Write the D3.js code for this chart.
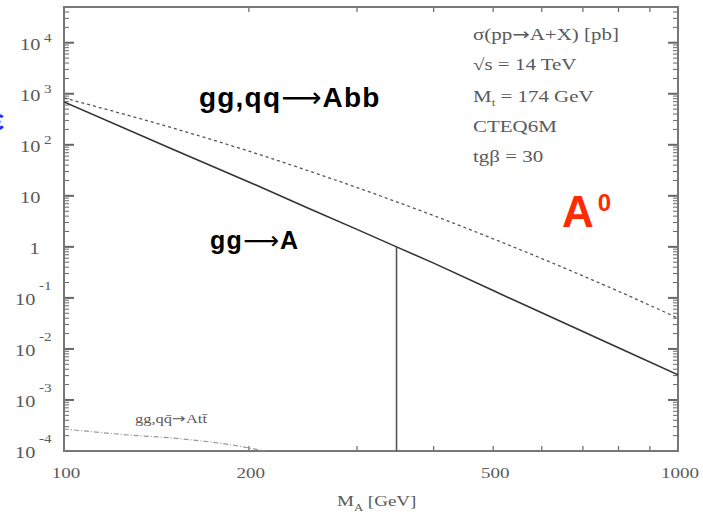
<!DOCTYPE html>
<html>
<head>
<meta charset="utf-8">
<script src="https://d3js.org/d3.v7.min.js"></script>
<style>
  body { margin: 0; background: #fff; }
  svg { display: block; }
  .serif { font-family: "Liberation Serif", "DejaVu Serif", serif; fill: #5a5a5a; }
  .bold { font-family: "Liberation Sans", Arial, sans-serif; font-weight: bold; }
  .arrow { font-family: "DejaVu Sans", sans-serif; font-weight: normal; }
</style>
</head>
<body>
<div id="chart"></div>
<script>
// cross sections sigma(pp -> A + X) [pb]
const massAbb = [100, 150, 200, 250, 300, 400, 500, 600, 700, 800, 1000];
const sigmaAbb = [828, 215, 75, 31, 14.5, 4.1, 1.44, 0.59, 0.27, 0.135, 0.040];

const massGgA = [100, 150, 200, 250, 300, 348, 400, 500, 600, 700, 800, 1000];
const sigmaGgA = [690, 83, 18.7, 5.7, 2.2, 1.0, 0.48, 0.139, 0.051, 0.022, 0.0105, 0.0031];

const massAtt = [100, 128, 150, 200, 212, 250];
const sigmaAtt = [2.7e-4, 2.05e-4, 1.8e-4, 1.15e-4, 1.0e-4, 7e-5];

const thresholdMass = 348; // 2 * M_t

const xTickLabels = [100, 200, 500, 1000];
const yTickExps = [-4, -3, -2, -1, 0, 1, 2, 3, 4];
const infoLines = ["σ(pp→A+X) [pb]", "√s = 14 TeV", "M|t = 174 GeV", "CTEQ6M", "tgβ = 30"];

const W = 703, H = 516;
const plot = { left: 64, right: 678, top: 7, bottom: 451 };
const sx = 1.27; // the scanned labels are stretched sideways

const svg = d3.select("#chart").append("svg")
    .attr("width", W).attr("height", H);

const x = d3.scaleLog().domain([100, 1000]).range([plot.left, plot.right]);
const y = d3.scaleLog().domain([1e-4, Math.pow(10, 4.7)]).range([plot.bottom, plot.top]);

svg.append("clipPath").attr("id", "clip")
  .append("rect")
    .attr("x", plot.left).attr("y", plot.top)
    .attr("width", plot.right - plot.left).attr("height", plot.bottom - plot.top);

// ticks, all pointing inwards
const ticks = svg.append("g").attr("stroke", "#666").attr("stroke-width", 1.2);
const yMinor = [];
for (let e = -4; e <= 4; e++) {
    for (let m = 1; m <= 9; m++) {
        const v = m * Math.pow(10, e);
        if (v <= y.domain()[1]) yMinor.push({ v, major: m === 1 });
    }
}
ticks.selectAll(".yl").data(yMinor).enter().append("line")
    .attr("x1", plot.left).attr("x2", d => plot.left + (d.major ? 10 : 5))
    .attr("y1", d => y(d.v)).attr("y2", d => y(d.v))
    .attr("stroke-width", d => d.major ? 2 : 1);
ticks.selectAll(".yr").data(yMinor).enter().append("line")
    .attr("x1", plot.right).attr("x2", d => plot.right - (d.major ? 10 : 5))
    .attr("y1", d => y(d.v)).attr("y2", d => y(d.v))
    .attr("stroke-width", d => d.major ? 2 : 1);
const xMinor = d3.range(100, 1001, 100);
ticks.selectAll(".xb").data(xMinor).enter().append("line")
    .attr("x1", d => x(d)).attr("x2", d => x(d))
    .attr("y1", plot.bottom).attr("y2", plot.bottom - 5);
ticks.selectAll(".xt").data(xMinor).enter().append("line")
    .attr("x1", d => x(d)).attr("x2", d => x(d))
    .attr("y1", plot.top).attr("y2", plot.top + 5);

// frame
svg.append("rect")
    .attr("x", plot.left).attr("y", plot.top)
    .attr("width", plot.right - plot.left).attr("height", plot.bottom - plot.top)
    .attr("fill", "none").attr("stroke", "#777").attr("stroke-width", 2);

// curves
const line = d3.line().x(d => x(d[0])).y(d => y(d[1])).curve(d3.curveMonotoneX);
const curves = svg.append("g").attr("clip-path", "url(#clip)").attr("fill", "none");

curves.append("path")
    .datum(d3.zip(massAbb, sigmaAbb))
    .attr("d", line)
    .attr("stroke", "#555").attr("stroke-width", 1.3).attr("stroke-dasharray", "3,3");

curves.append("path")
    .datum(d3.zip(massGgA, sigmaGgA))
    .attr("d", d3.line().x(d => x(d[0])).y(d => y(d[1])))
    .attr("stroke", "#333").attr("stroke-width", 1.6);

curves.append("path")
    .datum(d3.zip(massAtt, sigmaAtt))
    .attr("d", line)
    .attr("stroke", "#999").attr("stroke-width", 1.2).attr("stroke-dasharray", "5,2,1,2");

// threshold spike at 2 M_t
const thrVal = sigmaGgA[massGgA.indexOf(thresholdMass)];
curves.append("line")
    .attr("x1", x(thresholdMass)).attr("x2", x(thresholdMass))
    .attr("y1", y(thrVal)).attr("y2", y(1e-4))
    .attr("stroke", "#555").attr("stroke-width", 1.6);

// stretched serif text helper
function sText(px, py, size, anchor) {
    return svg.append("g")
        .attr("transform", `translate(${px},${py}) scale(${sx},1)`)
        .append("text").attr("class", "serif")
        .attr("font-size", size).attr("text-anchor", anchor || "start");
}

// y tick labels
yTickExps.forEach(e => {
    const ty = y(Math.pow(10, e));
    if (e === 0) {
        sText(34.5, ty + 7, 16, "middle").text("1");
    } else if (e === 1) {
        sText(20, ty + 7, 16).text("10");
    } else if (e > 1) {
        sText(20, ty + 7, 16).text("10");
        sText(44, ty - 1, 12).text(e);
    } else {
        sText(15, ty + 7, 16).text("10");
        sText(39, ty - 8, 12).text("-" + Math.abs(e));
    }
});

// x tick labels
xTickLabels.forEach(v => {
    sText(x(v) + 2, 478, 15, "middle").text(v);
});

// x axis title
const xt = sText(337, 506, 15);
xt.append("tspan").text("M");
xt.append("tspan").attr("font-size", 10).attr("dy", 5).text("A");
xt.append("tspan").attr("dy", -5).text(" [GeV]");

// write a label, giving any arrow the wider DejaVu glyph
function withArrow(t, s, arrow) {
    s.split("→").forEach((part, i) => {
        if (i > 0) t.append("tspan").attr("class", "arrow").text(arrow);
        t.append("tspan").text(part);
    });
}

// info box
infoLines.forEach((s, i) => {
    const t = sText(473, [40, 70, 102, 132, 162][i], 16.5);
    if (s.includes("|")) {
        const [a, b] = s.split("|");
        t.append("tspan").text(a);
        t.append("tspan").attr("font-size", 10).attr("dy", 4).text(b.slice(0, 1));
        t.append("tspan").attr("dy", -4).text(b.slice(1));
    } else {
        withArrow(t, s, "→");
    }
});

// ttbar label in the original figure
withArrow(sText(135, 423, 13), "gg,qq̄→Att̄", "→");

// overlay labels
const l1 = svg.append("text").attr("class", "bold")
    .attr("x", 199).attr("y", 107).attr("font-size", 28)
    .attr("letter-spacing", 1.2).attr("fill", "#000");
withArrow(l1, "gg,qq→Abb", "⟶");
const l2 = svg.append("text").attr("class", "bold")
    .attr("x", 210).attr("y", 249).attr("font-size", 25)
    .attr("letter-spacing", 1.2).attr("fill", "#000");
withArrow(l2, "gg→A", "⟶");
const a0 = svg.append("text").attr("class", "bold")
    .attr("x", 562).attr("y", 227).attr("font-size", 44).attr("fill", "#ff2a00");
a0.append("tspan").text("A");
a0.append("tspan").attr("font-size", 24).attr("dx", 4).attr("dy", -16).text("0");

// cut-off blue marks at the left edge
svg.append("text").attr("class", "bold")
    .attr("x", -9).attr("y", 64).attr("font-size", 22).attr("fill", "#2a2aff").text("\\");
svg.append("text").attr("class", "bold")
    .attr("x", -10).attr("y", 130).attr("font-size", 30).attr("fill", "#2a2aff").text("ε");
</script>
</body>
</html>
